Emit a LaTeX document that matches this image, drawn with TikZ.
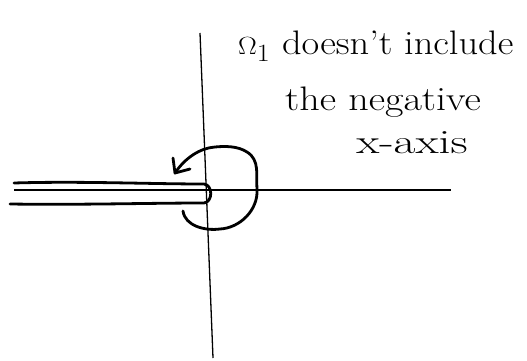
\documentclass[tikz,border=0pt]{standalone}
\usetikzlibrary{arrows.meta}
\begin{document}
\begin{tikzpicture}[x=1pt,y=-1pt,
  axis/.style={line width=1.3pt,black},
  ink/.style={line width=2.8pt,black,line cap=round,line join=round},
  note/.style={font=\fontsize{34}{36}\selectfont,anchor=west,inner sep=0pt}]
\useasboundingbox (0,0) rectangle (527,361);
% axes
\coordinate (ytop) at (200,33);
\coordinate (ybot) at (213,358);
\coordinate (xl) at (14,190);
\coordinate (xr) at (451,190);
\draw[axis] (ytop) -- (ybot);
\draw[axis] (xl) -- (xr);
% slit along the negative x-axis
\coordinate (s1) at (14,183);
\coordinate (s2) at (10,204);
\draw[ink] (s1) .. controls (80,181) and (150,184) .. (204,184)
  .. controls (213,185) and (213,202) .. (204,203)
  .. controls (150,203) and (80,205) .. (s2);
% loop with arrow
\coordinate (c0) at (183,211);
\coordinate (tip) at (175,173);
\draw[ink] (c0) .. controls (185,226) and (205,231) .. (220,229)
  .. controls (240,228) and (258,210) .. (257,190)
  .. controls (256,175) and (260,160) .. (247,152)
  .. controls (238,146) and (225,146) .. (215,147)
  .. controls (200,148) and (185,158) .. (tip);
\draw[ink] (173,158) -- (tip) -- (190,169);
% text
\node[note,xscale=1.13] (t1) at (238,46) {$\Omega_1$ doesn't include};
\node[note,xscale=1.18] (t2) at (285,102) {the negative};
\node[note,xscale=1.4] (t3) at (356,143) {x-axis};
\end{tikzpicture}
\end{document}
